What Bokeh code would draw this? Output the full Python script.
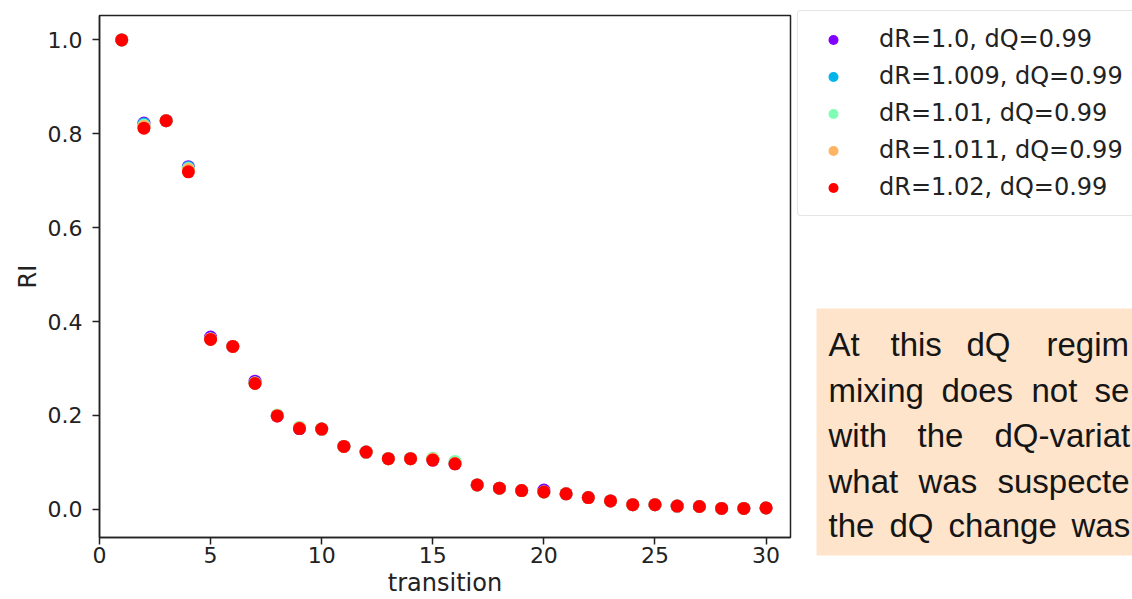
from bokeh.plotting import figure
from bokeh.models import (Legend, LegendItem, Label, BoxAnnotation, FixedTicker,
                          NumeralTickFormatter, Range1d, Row)
from bokeh.embed import file_html
from bokeh.resources import INLINE

# ---------------- data ----------------
transition = list(range(1, 31))

series_labels = ["dR=1.0, dQ=0.99", "dR=1.009, dQ=0.99", "dR=1.01, dQ=0.99",
                 "dR=1.011, dQ=0.99", "dR=1.02, dQ=0.99"]
series_colors = ["#8000ff", "#00b4ec", "#80ffb4", "#ffb462", "#ff0000"]

ri_dR_1_000 = [1.0, 0.823, 0.828, 0.730, 0.367, 0.347, 0.273, 0.199, 0.172, 0.171,
               0.134, 0.122, 0.108, 0.108, 0.105, 0.097, 0.052, 0.045, 0.040, 0.041,
               0.033, 0.025, 0.018, 0.010, 0.010, 0.007, 0.006, 0.002, 0.002, 0.003]
ri_dR_1_009 = [1.0, 0.821, 0.828, 0.728, 0.363, 0.347, 0.269, 0.200, 0.173, 0.171,
               0.134, 0.122, 0.108, 0.108, 0.107, 0.101, 0.052, 0.045, 0.040, 0.037,
               0.033, 0.025, 0.018, 0.010, 0.010, 0.007, 0.006, 0.002, 0.002, 0.003]
ri_dR_1_010 = [1.0, 0.818, 0.828, 0.726, 0.363, 0.347, 0.269, 0.201, 0.175, 0.171,
               0.134, 0.122, 0.108, 0.108, 0.109, 0.102, 0.052, 0.045, 0.040, 0.037,
               0.033, 0.025, 0.018, 0.010, 0.010, 0.007, 0.006, 0.002, 0.002, 0.003]
ri_dR_1_011 = [1.0, 0.816, 0.828, 0.724, 0.363, 0.347, 0.269, 0.200, 0.174, 0.171,
               0.134, 0.122, 0.108, 0.108, 0.107, 0.098, 0.052, 0.045, 0.040, 0.037,
               0.033, 0.025, 0.018, 0.010, 0.010, 0.007, 0.006, 0.002, 0.002, 0.003]
ri_dR_1_020 = [1.0, 0.812, 0.828, 0.719, 0.362, 0.347, 0.268, 0.199, 0.172, 0.171,
               0.134, 0.122, 0.108, 0.108, 0.105, 0.097, 0.052, 0.045, 0.040, 0.037,
               0.033, 0.025, 0.018, 0.010, 0.010, 0.007, 0.006, 0.002, 0.002, 0.003]
series_values = [ri_dR_1_000, ri_dR_1_009, ri_dR_1_010, ri_dR_1_011, ri_dR_1_020]

x_ticks = [0, 5, 10, 15, 20, 25, 30]
y_ticks = [0.0, 0.2, 0.4, 0.6, 0.8, 1.0]

note_lines = [
    ["At", "this", "dQ", "regim"],
    ["mixing", "does", "not", "se"],
    ["with", "the", "dQ-variat"],
    ["what", "was", "suspecte"],
    ["the", "dQ", "change", "was"],
]

# ---------------- main plot ----------------
FONT = "DejaVu Sans"
INK = "#222222"
p = figure(width=795, height=599, output_backend="svg", toolbar_location=None,
           x_range=Range1d(0, 31.1), y_range=Range1d(-0.06, 1.052),
           min_border_left=99, min_border_right=5, min_border_top=15,
           min_border_bottom=62, background_fill_color="white",
           border_fill_color="white", frame_align=False)
p.grid.visible = False
p.outline_line_color = INK
p.outline_line_width = 1.5

for vals, col in zip(series_values, series_colors):
    p.scatter(transition, vals, size=13, fill_color=col, line_color=None)

for ax in (p.xaxis[0], p.yaxis[0]):
    ax.axis_line_color = INK
    ax.axis_line_width = 1.5
    ax.major_tick_line_color = INK
    ax.major_tick_line_width = 1.5
    ax.major_tick_out = 7
    ax.major_tick_in = 0
    ax.minor_tick_line_color = None
    ax.major_label_text_font = FONT
    ax.major_label_text_font_size = "22px"
    ax.major_label_text_color = INK
    ax.axis_label_text_font = FONT
    ax.axis_label_text_font_size = "24px"
    ax.axis_label_text_font_style = "normal"
    ax.axis_label_text_color = INK

p.xaxis[0].ticker = FixedTicker(ticks=x_ticks)
p.yaxis[0].ticker = FixedTicker(ticks=y_ticks)
p.yaxis[0].formatter = NumeralTickFormatter(format="0.0")
p.xaxis[0].axis_label = "transition"
p.yaxis[0].axis_label = "RI"
p.xaxis[0].major_label_standoff = 2
p.xaxis[0].axis_label_standoff = 3
p.yaxis[0].major_label_standoff = 10
p.yaxis[0].axis_label_standoff = 3

# ---------------- side panel: legend + note ----------------
side = figure(width=337, height=599, output_backend="svg", toolbar_location=None,
              x_range=Range1d(795, 1132), y_range=Range1d(599, 0),
              x_axis_location=None, y_axis_location=None,
              min_border_left=0, min_border_right=0, min_border_top=0,
              min_border_bottom=0, background_fill_color="white",
              border_fill_color="white", outline_line_color=None,
              frame_align=False)
side.grid.visible = False

# legend proxies: same data, which lies outside this panel's ranges (not visible)
legend_renderers = []
for vals, col in zip(series_values, series_colors):
    legend_renderers.append(side.scatter(transition, vals, size=13, fill_color=col,
                                         line_color=None))

legend = Legend(
    items=[LegendItem(label=lab, renderers=[r])
           for lab, r in zip(series_labels, legend_renderers)],
    location=(2, 383), orientation="vertical",
    label_text_font=FONT, label_text_font_size="24px", label_text_color=INK,
    glyph_width=44, glyph_height=25, label_height=30, label_width=270,
    label_standoff=24, spacing=7, padding=13, margin=0,
    border_line_color="#cccccc", border_line_width=1.5, border_radius=4,
    background_fill_color="white", background_fill_alpha=0.8,
)
side.add_layout(legend, "center")

box = BoxAnnotation(left=816, right=1140, top=308, bottom=555,
                    fill_color="#fde4cb", fill_alpha=1.0, line_color=None)
side.add_layout(box)

word_x = [
    [828, 890, 966, 1046],
    [828, 941, 1031, 1094],
    [828, 917, 994],
    [828, 918, 997],
    [828, 889, 948, 1071],
]
baselines = [344, 390, 435, 481, 525]
for words, xs, yb in zip(note_lines, word_x, baselines):
    for w, xx in zip(words, xs):
        side.add_layout(Label(x=xx, y=yb, text=w,
                              text_font="Liberation Sans", text_font_size="33px",
                              text_color="#151515", text_baseline="alphabetic",
                              text_align="left"))

layout = Row(children=[p, side], spacing=0)
open("out.html", "w").write(file_html(layout, INLINE))
